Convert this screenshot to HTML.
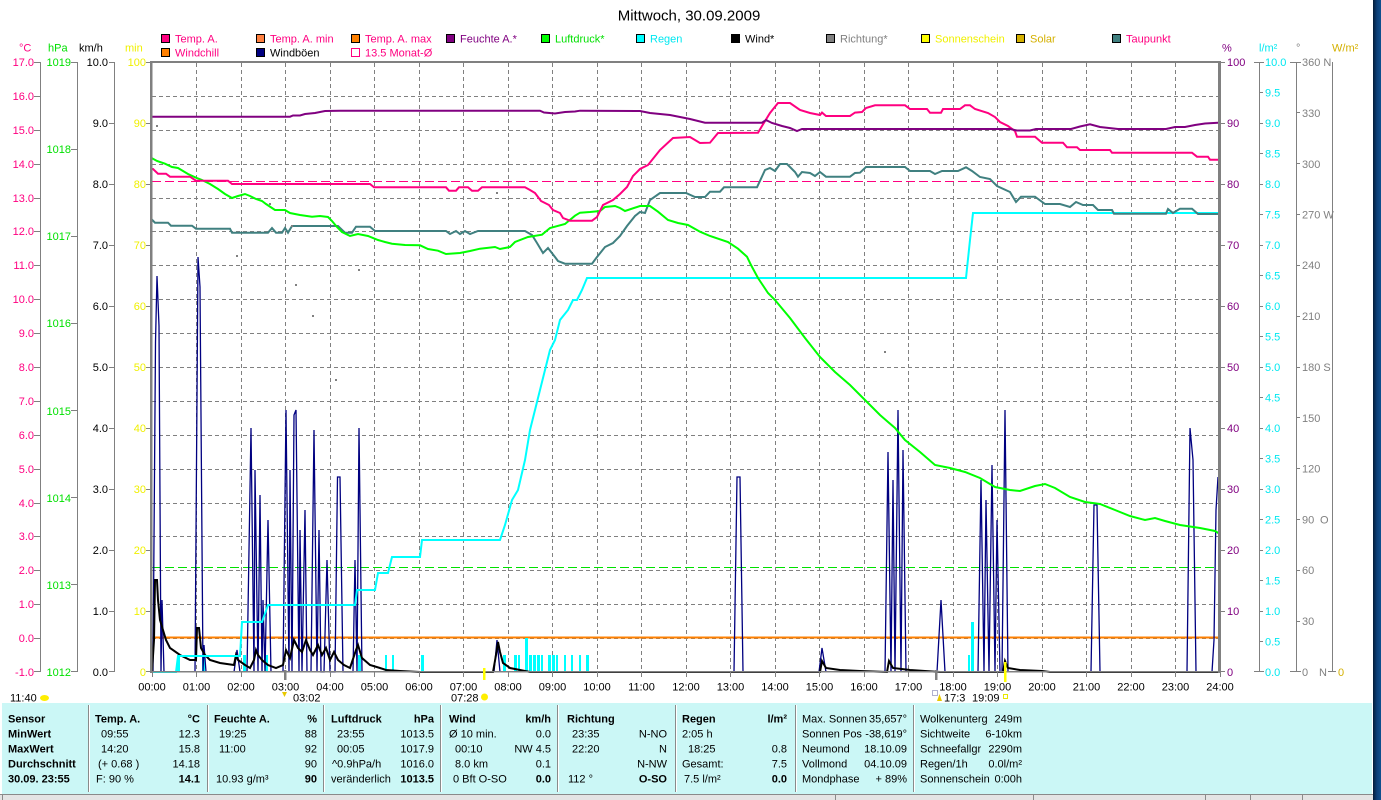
<!DOCTYPE html>
<html><head><meta charset="utf-8"><style>
html,body{margin:0;padding:0;background:#fff;}
svg{display:block;font-family:"Liberation Sans",Arial,sans-serif;}
</style></head><body>
<svg width="1381" height="800" viewBox="0 0 1381 800" xmlns="http://www.w3.org/2000/svg">
<defs>
<linearGradient id="desk" x1="0" y1="0" x2="1" y2="0"><stop offset="0" stop-color="#041c38"/><stop offset="0.5" stop-color="#0c3f78"/><stop offset="1" stop-color="#11508f"/></linearGradient>
<clipPath id="pc"><rect x="152" y="62" width="1066" height="611"/></clipPath>
</defs>
<rect x="0" y="0" width="1381" height="800" fill="#fff"/>
<rect x="1373" y="0" width="8" height="800" fill="url(#desk)"/>

<!-- title -->
<text x="689" y="20.5" font-size="15" text-anchor="middle" fill="#000">Mittwoch, 30.09.2009</text>

<!-- legend -->
<g font-size="11">
<rect x="161.5" y="34.5" width="8" height="8" fill="#ff0080" stroke="#000"/><text x="175" y="42.5" fill="#ff0080">Temp. A.</text>
<rect x="256.5" y="34.5" width="8" height="8" fill="#ff8040" stroke="#000"/><text x="270" y="42.5" fill="#ff0080">Temp. A. min</text>
<rect x="351.5" y="34.5" width="8" height="8" fill="#ff8000" stroke="#000"/><text x="365" y="42.5" fill="#ff0080">Temp. A. max</text>
<rect x="446.5" y="34.5" width="8" height="8" fill="#800080" stroke="#000"/><text x="460" y="42.5" fill="#800080">Feuchte A.*</text>
<rect x="541.5" y="34.5" width="8" height="8" fill="#00ff00" stroke="#000"/><text x="555" y="42.5" fill="#00e000">Luftdruck*</text>
<rect x="636.5" y="34.5" width="8" height="8" fill="#00ffff" stroke="#000"/><text x="650" y="42.5" fill="#00e8f0">Regen</text>
<rect x="731.5" y="34.5" width="8" height="8" fill="#000" stroke="#000"/><text x="745" y="42.5" fill="#000">Wind*</text>
<rect x="826.5" y="34.5" width="8" height="8" fill="#808080" stroke="#000"/><text x="840" y="42.5" fill="#808080">Richtung*</text>
<rect x="921.5" y="34.5" width="8" height="8" fill="#ffff00" stroke="#000"/><text x="935" y="42.5" fill="#f0f000">Sonnenschein</text>
<rect x="1016.5" y="34.5" width="8" height="8" fill="#d4b000" stroke="#000"/><text x="1030" y="42.5" fill="#d4b000">Solar</text>
<rect x="1112.5" y="34.5" width="8" height="8" fill="#408080" stroke="#000"/><text x="1126" y="42.5" fill="#ff0080">Taupunkt</text>
<rect x="161.5" y="48.5" width="8" height="8" fill="#ff8000" stroke="#000"/><text x="175" y="56.5" fill="#ff0080">Windchill</text>
<rect x="256.5" y="48.5" width="8" height="8" fill="#000080" stroke="#000"/><text x="270" y="56.5" fill="#000">Windböen</text>
<rect x="351.5" y="48.5" width="8" height="8" fill="none" stroke="#ff0080"/><text x="365" y="56.5" fill="#ff0080">13.5 Monat-Ø</text>
</g>

<!-- unit headers -->
<g font-size="11">
<text x="19" y="51.5" fill="#ff0080">°C</text>
<text x="48" y="51.5" fill="#00e000">hPa</text>
<text x="79" y="51.5" fill="#000">km/h</text>
<text x="125" y="51.5" fill="#f0f000">min</text>
<text x="1222" y="51.5" fill="#800080">%</text>
<text x="1259" y="51.5" fill="#00e8f0">l/m²</text>
<text x="1296" y="51.5" fill="#808080">°</text>
<text x="1332" y="51.5" fill="#d4b000">W/m²</text>
</g>

<!-- left axes -->
<g stroke="#808080" stroke-width="1" fill="none">
<path d="M40.5 62V672 M77.5 62V672 M114.5 62V672"/>
<path d="M34 62.5H40 M34 96.5H40 M34 130.5H40 M34 164.5H40 M34 198.5H40 M34 231.5H40 M34 265.5H40 M34 299.5H40 M34 333.5H40 M34 367.5H40 M34 401.5H40 M34 435.5H40 M34 469.5H40 M34 503.5H40 M34 536.5H40 M34 570.5H40 M34 604.5H40 M34 638.5H40 M34 671.5H40"/>
<path d="M71 62.5H77 M71 149.5H77 M71 236.5H77 M71 323.5H77 M71 410.5H77 M71 497.5H77 M71 584.5H77 M71 671.5H77"/>
<path d="M109 62.5H114 M109 123.5H114 M109 184.5H114 M109 245.5H114 M109 306.5H114 M109 367.5H114 M109 428.5H114 M109 489.5H114 M109 550.5H114 M109 611.5H114 M109 671.5H114"/>
<path d="M146 62.5H151 M146 123.5H151 M146 184.5H151 M146 245.5H151 M146 306.5H151 M146 367.5H151 M146 428.5H151 M146 489.5H151 M146 550.5H151 M146 611.5H151 M146 671.5H151"/>
</g>
<g font-size="11" text-anchor="end">
<g fill="#ff0080">
<text x="34" y="66">17.0</text><text x="34" y="100">16.0</text><text x="34" y="134">15.0</text><text x="34" y="168">14.0</text><text x="34" y="202">13.0</text><text x="34" y="235">12.0</text><text x="34" y="269">11.0</text><text x="34" y="303">10.0</text><text x="34" y="337">9.0</text><text x="34" y="371">8.0</text><text x="34" y="405">7.0</text><text x="34" y="439">6.0</text><text x="34" y="473">5.0</text><text x="34" y="507">4.0</text><text x="34" y="540">3.0</text><text x="34" y="574">2.0</text><text x="34" y="608">1.0</text><text x="34" y="642">0.0</text><text x="34" y="676">-1.0</text>
</g>
<g fill="#00e000">
<text x="71" y="66">1019</text><text x="71" y="153">1018</text><text x="71" y="240">1017</text><text x="71" y="327">1016</text><text x="71" y="415">1015</text><text x="71" y="502">1014</text><text x="71" y="589">1013</text><text x="71" y="676">1012</text>
</g>
<g fill="#000">
<text x="108" y="66">10.0</text><text x="108" y="127">9.0</text><text x="108" y="188">8.0</text><text x="108" y="249">7.0</text><text x="108" y="310">6.0</text><text x="108" y="371">5.0</text><text x="108" y="432">4.0</text><text x="108" y="493">3.0</text><text x="108" y="554">2.0</text><text x="108" y="615">1.0</text><text x="108" y="676">0.0</text>
</g>
<g fill="#f0f000">
<text x="146" y="66">100</text><text x="146" y="127">90</text><text x="146" y="188">80</text><text x="146" y="249">70</text><text x="146" y="310">60</text><text x="146" y="371">50</text><text x="146" y="432">40</text><text x="146" y="493">30</text><text x="146" y="554">20</text><text x="146" y="615">10</text><text x="146" y="676">0</text>
</g>
</g>

<!-- right axes -->
<g stroke="#808080" stroke-width="1" fill="none">
<path d="M1259.5 62V672 M1296.5 62V672 M1332.5 62V672"/>
<path d="M1221 62.5H1225 M1221 123.5H1225 M1221 184.5H1225 M1221 245.5H1225 M1221 306.5H1225 M1221 367.5H1225 M1221 428.5H1225 M1221 489.5H1225 M1221 550.5H1225 M1221 611.5H1225 M1221 671.5H1225"/>
<path d="M1254 62.5H1264 M1259 92.5H1263 M1259 123.5H1263 M1259 153.5H1263 M1259 184.5H1263 M1259 214.5H1263 M1259 245.5H1263 M1259 275.5H1263 M1259 306.5H1263 M1259 336.5H1263 M1259 367.5H1263 M1259 397.5H1263 M1259 428.5H1263 M1259 458.5H1263 M1259 489.5H1263 M1259 519.5H1263 M1259 550.5H1263 M1259 580.5H1263 M1259 611.5H1263 M1259 641.5H1263 M1254 671.5H1264"/>
<path d="M1290 62.5H1301 M1296 112.5H1300 M1296 163.5H1300 M1296 214.5H1300 M1296 265.5H1300 M1296 316.5H1300 M1296 367.5H1300 M1296 417.5H1300 M1296 468.5H1300 M1296 519.5H1300 M1296 570.5H1300 M1296 621.5H1300 M1290 671.5H1301"/>
<path d="M1328 671.5H1336"/>
</g>
<g font-size="11">
<g fill="#800080">
<text x="1227" y="66">100</text><text x="1227" y="127">90</text><text x="1227" y="188">80</text><text x="1227" y="249">70</text><text x="1227" y="310">60</text><text x="1227" y="371">50</text><text x="1227" y="432">40</text><text x="1227" y="493">30</text><text x="1227" y="554">20</text><text x="1227" y="615">10</text><text x="1227" y="676">0</text>
</g>
<g fill="#00e8f0">
<text x="1265" y="66">10.0</text><text x="1265" y="96.5">9.5</text><text x="1265" y="127">9.0</text><text x="1265" y="157.5">8.5</text><text x="1265" y="188">8.0</text><text x="1265" y="218.5">7.5</text><text x="1265" y="249">7.0</text><text x="1265" y="279.5">6.5</text><text x="1265" y="310">6.0</text><text x="1265" y="340.5">5.5</text><text x="1265" y="371">5.0</text><text x="1265" y="401.5">4.5</text><text x="1265" y="432">4.0</text><text x="1265" y="462.5">3.5</text><text x="1265" y="493">3.0</text><text x="1265" y="523.5">2.5</text><text x="1265" y="554">2.0</text><text x="1265" y="584.5">1.5</text><text x="1265" y="615">1.0</text><text x="1265" y="645.5">0.5</text><text x="1265" y="676">0.0</text>
</g>
<g fill="#808080">
<text x="1302" y="66">360 N</text><text x="1302" y="117">330</text><text x="1302" y="168">300</text><text x="1302" y="218.5">270 W</text><text x="1302" y="269">240</text><text x="1302" y="320">210</text><text x="1302" y="371">180 S</text><text x="1302" y="422">150</text><text x="1302" y="472.5">120</text><text x="1302" y="523.5">90</text><text x="1320" y="523.5">O</text><text x="1302" y="574">60</text><text x="1302" y="625">30</text><text x="1302" y="676">0</text><text x="1319" y="676">N</text>
</g>
<text x="1338" y="676" fill="#d4b000">0</text>
</g>

<!-- plot grid -->
<g stroke="#808080" stroke-width="1" stroke-dasharray="4 3" fill="none">
<path d="M152 96.5H1218 M152 130.5H1218 M152 164.5H1218 M152 198.5H1218 M152 231.5H1218 M152 265.5H1218 M152 299.5H1218 M152 333.5H1218 M152 367.5H1218 M152 401.5H1218 M152 435.5H1218 M152 469.5H1218 M152 503.5H1218 M152 536.5H1218 M152 570.5H1218 M152 604.5H1218 M152 638.5H1218"/>
<path d="M196.5 63V672 M241.5 63V672 M285.5 63V672 M330.5 63V672 M374.5 63V672 M419.5 63V672 M463.5 63V672 M508.5 63V672 M552.5 63V672 M597.5 63V672 M641.5 63V672 M686.5 63V672 M730.5 63V672 M775.5 63V672 M819.5 63V672 M864.5 63V672 M908.5 63V672 M953.5 63V672 M997.5 63V672 M1042.5 63V672 M1086.5 63V672 M1131.5 63V672 M1175.5 63V672"/>
</g>

<g clip-path="url(#pc)" fill="none">
<!-- reference lines -->
<path d="M152 181.5H1218" stroke="#ff0080" stroke-width="1" stroke-dasharray="9 4"/>
<path d="M152 567.5H1218" stroke="#00e000" stroke-width="1" stroke-dasharray="9 4"/>
<path d="M152 637.5H1218" stroke="#ff8000" stroke-width="2"/>
<path d="M152 671.5H1218" stroke="#00ffff" stroke-width="1"/>

<!-- rain rate bars -->
<g fill="#00ffff" stroke="none">
<rect x="177" y="655" width="3" height="17"/><rect x="202" y="655" width="3" height="17"/><rect x="243" y="655" width="3" height="17"/><rect x="265" y="655" width="3" height="17"/><rect x="358" y="655" width="3" height="17"/><rect x="385" y="655" width="2" height="17"/><rect x="392" y="655" width="2" height="17"/><rect x="421" y="655" width="3" height="17"/>
<rect x="503" y="655" width="3" height="17"/><rect x="514" y="655" width="3" height="17"/><rect x="518" y="655" width="2" height="17"/><rect x="525" y="638" width="3" height="34"/><rect x="529" y="655" width="3" height="17"/><rect x="533" y="655" width="3" height="17"/><rect x="537" y="655" width="3" height="17"/><rect x="541" y="655" width="2" height="17"/><rect x="548" y="655" width="3" height="17"/><rect x="552" y="655" width="3" height="17"/><rect x="556" y="655" width="2" height="17"/><rect x="564" y="655" width="2" height="17"/><rect x="571" y="655" width="2" height="17"/><rect x="579" y="655" width="2" height="17"/><rect x="586" y="655" width="3" height="17"/>
<rect x="968" y="655" width="2" height="17"/><rect x="971" y="622" width="3" height="50"/>
</g>

<!-- gusts -->
<path stroke="#000080" stroke-width="1.3" stroke-linejoin="miter" d="
M153 672 L155.5 342 L157 276 L159 326 L161 672 L162 600 L164 672
M195 672 L198 257 L200 287 L203 672 L204 645 L206 672
M234 672 L237 650 L240 672
M247 672 L251 428 L254 672 L255 470 L258 672 L260 495 L262 672 L263 600 L265 672 L268 520 L271 672
M283 672 L286 410 L289 672 L290 470 L292 672 L294 415 L296 410 L299 672 L300 530 L302 672 L305 510 L307 672
M311 672 L314 430 L317 672 L319 530 L321 672 L324 672 L327 560 L330 672 L335 672 L337.5 477 L340 477 L343 672 L353 672 L355 560 L357 672 L359 428 L362 672
M494 672 L497 640 L500 672
M734 672 L737 477 L740 477 L743 672
M819 672 L822 648 L826 672
M885 672 L888 452 L891 672 L893 480 L895 672 L898 410 L901 672 L903 450 L906 672
M937 672 L941 600 L945 672
M978 672 L981 480 L984 672 L986 500 L989 672 L992 465 L995 672 L997 520 L1000 672 L1002 672 L1005 410 L1008 672
M1091 672 L1094 505 L1097 505 L1100 672
M1187 672 L1190 428 L1193 460 L1196 672
M1212 672 L1214 640 L1215 575 L1216 510 L1218 477"/>

<!-- wind -->
<polyline stroke="#000" stroke-width="2" points="152,672 154,640 155,580 157,580 158,600 160,620 163,630 166,640 170,648 180,655 190,660 196,660 197,628 199,628 201,648 205,655 210,660 220,663 234,665 236,655 238,660 245,665 250,668 254,660 256,650 258,655 262,660 268,665 276,668 283,665 286,650 290,658 294,640 298,648 302,652 306,640 310,650 313,655 318,645 322,655 326,648 330,660 334,652 338,660 344,665 350,668 356,650 358,645 362,658 370,665 380,668 386,670 400,671 420,672 493,672 496,655 498,642 500,652 503,663 510,668 520,670 530,672 820,672 822,661 826,668 840,670 860,671 887,672 889,661 893,668 910,670 925,671 940,672 1003,672 1005,661 1008,668 1020,670 1042,671 1050,672 1218,672"/>
<path d="M400 671.5H1218" stroke="#000" stroke-width="1" stroke-dasharray="3 2"/>

<!-- rain cumulative -->
<polyline stroke="#00ffff" stroke-width="2" points="152,672 176,672 178,656 240,656 242,622 262,622 268,605 355,605 357,590 375,590 378,573 388,573 392,557 420,557 422,540 500,540 505,525 512,500 518,490 525,460 530,430 535,410 540,390 545,370 550,350 555,340 560,320 568,310 573,300 577,300 582,290 587,278 966,278 970,240 973,213 1220,213"/>

<!-- dew point -->
<polyline stroke="#408080" stroke-width="2" points="151,218.7 155,222.7 168,222.7 171,225.7 192,225.7 196,228.7 230,228.7 232,232.7 268,232.7 272,228 276,232.7 282,232.7 285,228 288,232.7 292,226 338,226 345,232.7 352,232.7 356,226.7 370,226.7 375,231 446,231 450,234 456,231 460,234 465,231 470,234 478,231 525,231 532,235 537,243 543,253 548,248 555,257 558,261 565,263.7 592,263.7 597,257 605,247 613,243 620,236 627,226 635,216 640,212 645,213 650,200 660,193 686,193 695,197 705,197 710,191.7 720,191.7 724,187.3 757,187.3 765,170 770,168 775,171 780,164 787,164 795,172 798,176.7 802,172 810,173 815,176 820,172 826,176.7 850,176.7 855,173 860,172.7 866,167 905,167 910,171 930,171 935,174 942,171 958,171 966,167.3 972,171 980,177 990,179 997,186 1010,192 1016,202 1021,196.7 1035,196.7 1045,204 1060,204 1070,207 1076,202 1083,205 1093,205 1098,210 1112,210 1114,213.7 1166,213.7 1168,209 1173,213 1180,208.7 1192,208.7 1198,214 1220,214"/>

<!-- pressure -->
<polyline stroke="#00ff00" stroke-width="2" points="151,157.7 157,161 165,163.7 172,167 178,168 188,174 196,177.7 202,180 210,184 218,189 225,194 232,198 238,196 245,194 250,196 256,199 262,201 266,204 272,208 275,210 285,210 290,213 300,215 312,216.7 320,216 328,217 332,221 337,227 342,232 350,236 358,234 368,236 378,240 385,242 392,243.7 405,245 420,245.3 428,249 438,250.7 446,254 460,253 470,251 480,248.7 495,247 500,249 510,247 515,242 528,237 542,234.7 550,228 565,224 575,215.7 580,212.7 590,212 600,211 605,207 615,206 620,208 625,211 640,206 650,206 658,211.7 668,220 678,223 688,225 700,231.7 710,236 728,242 738,248.7 747,256.7 751,265 758,278 768,293 775,300 790,318 805,338 820,357 835,372 850,385 865,400 880,415 895,428 905,440 920,452 935,465 950,468 965,472 980,478 995,487 1010,490 1020,491 1035,486 1045,484 1055,488 1070,497 1085,502 1100,504 1115,510 1130,516 1145,520 1155,518 1165,521 1180,525 1200,528 1215,531 1220,534"/>

<!-- temperature -->
<polyline stroke="#ff0080" stroke-width="2" points="151,169 153,169 158,173.7 166,173.7 170,176.7 190,176.7 196,180.7 228,180.7 232,184 370,184 374,187.3 446,187.3 449,190.7 456,190.7 459,187.3 468,187.3 472,190.7 478,190.7 482,187.3 488,187.3 525,187.3 530,190 535,193 541,201 549,205 553,210 560,213 563,218 570,220.7 592,220.7 597,217 603,205 613,200 620,194 627,187 633,176 640,169 648,165 660,150 673,138 690,137 700,143 710,142.7 718,133 758,132.7 762,126 770,113 778,103 790,103 800,110 810,113 820,115 822,112.6 826,116 850,116 855,112.6 862,112 866,108 875,105.3 905,105.3 910,109 927,109 930,112.7 941,112.7 943,109 960,109 965,105.3 970,105.3 975,109 988,113 995,117 1000,122 1008,126 1015,131 1017,136.7 1035,136.7 1042,142.7 1063,142.7 1067,147.3 1077,147.3 1080,150 1110,150 1112,152.7 1192,152.7 1197,156.7 1208,156.7 1210,159.7 1220,159.7"/>

<!-- humidity -->
<polyline stroke="#800080" stroke-width="2" points="151,116.7 290,116.7 293,115.5 300,115.5 305,114 315,113 325,111 340,110.7 540,110.7 544,112.5 555,113.5 565,112 575,111.5 580,110.7 640,111 650,113 660,114 670,115 680,117 690,119 705,122.7 762,122.7 766,120 772,123 782,126 790,128 797,131 802,129 820,129 1010,129 1017,130.5 1030,130.5 1036,129 1071,129 1080,126.5 1090,124.3 1100,127 1118,129 1166,129 1175,127 1185,127 1195,125 1205,123.5 1220,122.7"/>

<!-- direction dots -->
<g fill="#808080" stroke="none">
<rect x="156" y="125" width="2" height="2"/><rect x="236" y="255" width="2" height="2"/><rect x="269" y="203" width="2" height="2"/><rect x="285" y="200" width="2" height="2"/><rect x="291" y="225" width="2" height="2"/><rect x="295" y="284" width="2" height="2"/><rect x="312" y="315" width="2" height="2"/><rect x="335" y="379" width="2" height="2"/><rect x="358" y="269" width="2" height="2"/><rect x="496" y="192" width="2" height="2"/><rect x="884" y="351" width="2" height="2"/>
</g>
</g>

<!-- frame -->
<g fill="#808080">
<rect x="150" y="61" width="1071" height="2"/>
<rect x="150" y="61" width="2.5" height="612"/>
<rect x="1218" y="61" width="3" height="612"/>
<rect x="150" y="671" width="1071" height="1.5"/>
</g>
<path stroke="#808080" stroke-width="1" d="M152.5 672V677 M196.5 672V677 M241.5 672V677 M285.5 672V677 M330.5 672V677 M374.5 672V677 M419.5 672V677 M463.5 672V677 M508.5 672V677 M552.5 672V677 M597.5 672V677 M641.5 672V677 M686.5 672V677 M730.5 672V677 M775.5 672V677 M819.5 672V677 M864.5 672V677 M908.5 672V677 M953.5 672V677 M997.5 672V677 M1042.5 672V677 M1086.5 672V677 M1131.5 672V677 M1175.5 672V677 M1220.5 672V677"/>
<rect x="284" y="670" width="2.5" height="10" fill="#808080"/>
<rect x="935" y="670" width="2.5" height="10" fill="#808080"/>
<rect x="483" y="668" width="2.5" height="12" fill="#ffff00"/>
<rect x="1004" y="662" width="2.5" height="20" fill="#ffff00"/>

<!-- x labels -->
<g font-size="11" text-anchor="middle" fill="#000">
<text x="152" y="690.5">00:00</text><text x="196.5" y="690.5">01:00</text><text x="241" y="690.5">02:00</text><text x="285.5" y="690.5">03:00</text><text x="330" y="690.5">04:00</text><text x="374.5" y="690.5">05:00</text><text x="419" y="690.5">06:00</text><text x="463.5" y="690.5">07:00</text><text x="508" y="690.5">08:00</text><text x="552.5" y="690.5">09:00</text><text x="597" y="690.5">10:00</text><text x="641.5" y="690.5">11:00</text><text x="686" y="690.5">12:00</text><text x="730.5" y="690.5">13:00</text><text x="775" y="690.5">14:00</text><text x="819.5" y="690.5">15:00</text><text x="864" y="690.5">16:00</text><text x="908.5" y="690.5">17:00</text><text x="953" y="690.5">18:00</text><text x="997.5" y="690.5">19:00</text><text x="1042" y="690.5">20:00</text><text x="1086.5" y="690.5">21:00</text><text x="1131" y="690.5">22:00</text><text x="1175.5" y="690.5">23:00</text><text x="1220" y="690.5">24:00</text>
</g>
<!-- markers row -->
<g font-size="11" fill="#000">
<text x="10" y="701.5">11:40</text>
<ellipse cx="44.5" cy="698" rx="4.5" ry="3" fill="#ffee00"/>
<path d="M282 692H287L284.5 697Z" fill="#e8c800"/>
<text x="293" y="701.5">03:02</text>
<text x="451" y="701.5">07:28</text>
<circle cx="484.5" cy="697" r="3.5" fill="#ffee00"/>
<rect x="932.5" y="690.5" width="5" height="5" fill="none" stroke="#6060a0" stroke-dasharray="1 1"/>
<path d="M937 701L939.5 694L942 701Z" fill="#e8c800"/>
<text x="944" y="701.5">17:3</text>
<text x="972" y="701.5">19:09</text>
<rect x="1003.5" y="694.5" width="4" height="4" fill="none" stroke="#e8e800"/>
</g>

<!-- table -->
<rect x="2" y="703" width="1370" height="91" fill="#cbf7f6"/>
<g stroke="#8a8a8a" stroke-width="1">
<path d="M88.5 705V792 M207.5 705V792 M323.5 705V792 M440.5 705V792 M557.5 705V792 M675.5 705V792 M795.5 705V792 M913.5 705V792"/>
</g>
<g stroke="#ffffff" stroke-width="1">
<path d="M89.5 705V792 M208.5 705V792 M324.5 705V792 M441.5 705V792 M558.5 705V792 M676.5 705V792 M796.5 705V792 M914.5 705V792"/>
</g>
<rect x="0" y="794" width="1373" height="6" fill="#e4e4e4"/>
<path d="M0 794.5H1373 M2.5 794V800 M835.5 794V800 M1033.5 794V800 M1205.5 794V800 M1250.5 794V800 M1302.5 794V800" stroke="#8a8a8a" stroke-width="1"/>

<g font-size="11" fill="#000">
<g font-weight="bold">
<text x="8" y="722.5">Sensor</text>
<text x="8" y="737.5">MinWert</text>
<text x="8" y="752.5">MaxWert</text>
<text x="8" y="767.5">Durchschnitt</text>
<text x="8" y="782.5">30.09. 23:55</text>
<text x="95" y="722.5">Temp. A.</text><text x="200" y="722.5" text-anchor="end">°C</text>
<text x="214" y="722.5">Feuchte A.</text><text x="317" y="722.5" text-anchor="end">%</text>
<text x="331" y="722.5">Luftdruck</text><text x="434" y="722.5" text-anchor="end">hPa</text>
<text x="449" y="722.5">Wind</text><text x="551" y="722.5" text-anchor="end">km/h</text>
<text x="567" y="722.5">Richtung</text>
<text x="682" y="722.5">Regen</text><text x="787" y="722.5" text-anchor="end">l/m²</text>
<text x="200" y="782.5" text-anchor="end">14.1</text>
<text x="317" y="782.5" text-anchor="end">90</text>
<text x="434" y="782.5" text-anchor="end">1013.5</text>
<text x="551" y="782.5" text-anchor="end">0.0</text>
<text x="667" y="782.5" text-anchor="end">O-SO</text>
<text x="787" y="782.5" text-anchor="end">0.0</text>
</g>
<text x="101" y="737.5">09:55</text><text x="200" y="737.5" text-anchor="end">12.3</text>
<text x="101" y="752.5">14:20</text><text x="200" y="752.5" text-anchor="end">15.8</text>
<text x="98" y="767.5">(+ 0.68 )</text><text x="200" y="767.5" text-anchor="end">14.18</text>
<text x="96" y="782.5">F: 90 %</text>

<text x="219" y="737.5">19:25</text><text x="317" y="737.5" text-anchor="end">88</text>
<text x="219" y="752.5">11:00</text><text x="317" y="752.5" text-anchor="end">92</text>
<text x="317" y="767.5" text-anchor="end">90</text>
<text x="216" y="782.5">10.93 g/m³</text>

<text x="337" y="737.5">23:55</text><text x="434" y="737.5" text-anchor="end">1013.5</text>
<text x="337" y="752.5">00:05</text><text x="434" y="752.5" text-anchor="end">1017.9</text>
<text x="332" y="767.5">^0.9hPa/h</text><text x="434" y="767.5" text-anchor="end">1016.0</text>
<text x="331" y="782.5">veränderlich</text>

<text x="449" y="737.5">Ø 10 min.</text><text x="551" y="737.5" text-anchor="end">0.0</text>
<text x="455" y="752.5">00:10</text><text x="551" y="752.5" text-anchor="end">NW 4.5</text>
<text x="455" y="767.5">8.0 km</text><text x="551" y="767.5" text-anchor="end">0.1</text>
<text x="453" y="782.5">0 Bft O-SO</text>

<text x="572" y="737.5">23:35</text><text x="667" y="737.5" text-anchor="end">N-NO</text>
<text x="572" y="752.5">22:20</text><text x="667" y="752.5" text-anchor="end">N</text>
<text x="667" y="767.5" text-anchor="end">N-NW</text>
<text x="568" y="782.5">112 °</text>

<text x="682" y="737.5">2:05 h</text>
<text x="688" y="752.5">18:25</text><text x="787" y="752.5" text-anchor="end">0.8</text>
<text x="682" y="767.5">Gesamt:</text><text x="787" y="767.5" text-anchor="end">7.5</text>
<text x="684" y="782.5">7.5 l/m²</text>

<text x="802" y="722.5">Max. Sonnen</text><text x="907" y="722.5" text-anchor="end">35,657°</text>
<text x="802" y="737.5">Sonnen Pos</text><text x="907" y="737.5" text-anchor="end">-38,619°</text>
<text x="802" y="752.5">Neumond</text><text x="907" y="752.5" text-anchor="end">18.10.09</text>
<text x="802" y="767.5">Vollmond</text><text x="907" y="767.5" text-anchor="end">04.10.09</text>
<text x="802" y="782.5">Mondphase</text><text x="907" y="782.5" text-anchor="end">+ 89%</text>

<text x="920" y="722.5">Wolkenunterg</text><text x="1022" y="722.5" text-anchor="end">249m</text>
<text x="920" y="737.5">Sichtweite</text><text x="1022" y="737.5" text-anchor="end">6-10km</text>
<text x="920" y="752.5">Schneefallgr</text><text x="1022" y="752.5" text-anchor="end">2290m</text>
<text x="920" y="767.5">Regen/1h</text><text x="1022" y="767.5" text-anchor="end">0.0l/m²</text>
<text x="920" y="782.5">Sonnenschein</text><text x="1022" y="782.5" text-anchor="end">0:00h</text>
</g>
</svg>
</body></html>
